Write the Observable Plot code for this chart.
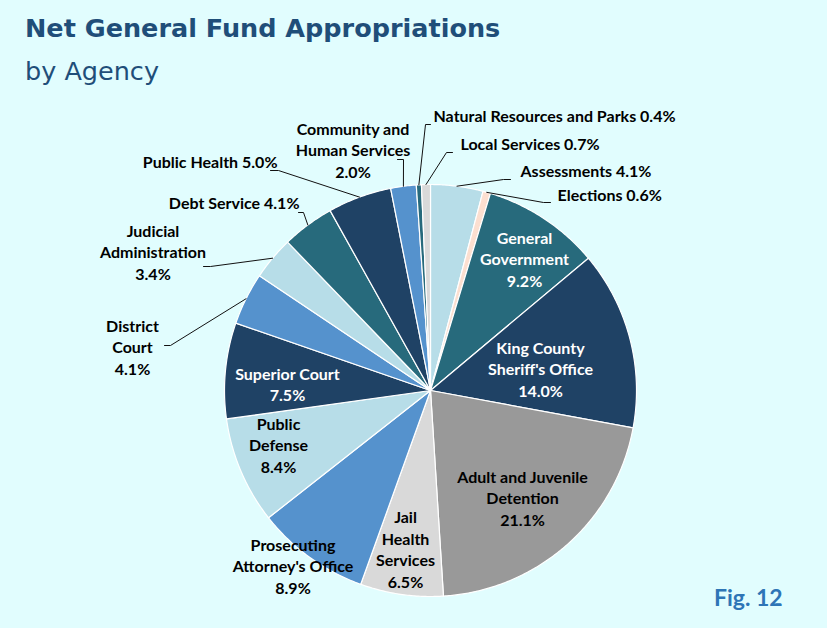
<!DOCTYPE html>
<html><head><meta charset="utf-8">
<script src="https://cdn.jsdelivr.net/npm/d3@7"></script>
<script src="https://cdn.jsdelivr.net/npm/@observablehq/plot@0.6"></script>
<style>
body{margin:0;background:#e1fdfe;width:827px;height:628px;overflow:hidden;position:relative;}
#title{padding:7px 0 0 25px;height:86px;font-family:"DejaVu Sans";font-size:25.5px;line-height:43px;color:#1f4e79;}
#title .t1{font-weight:bold;}
#fig{position:absolute;left:714px;top:584px;font-family:Lato;font-weight:bold;font-size:23px;line-height:1.2;color:#2e75b6;}
</style></head>
<body>
<div id="title"><div class="t1">Net General Fund Appropriations</div><div>by Agency</div></div>
<div id="chart"></div>
<div id="fig">Fig. 12</div>
<script>
// ---- data ----
const names = ["Assessments","Elections","General Government","King County Sheriff's Office","Adult and Juvenile Detention","Jail Health Services","Prosecuting Attorney's Office","Public Defense","Superior Court","District Court","Judicial Administration","Debt Service","Public Health","Community and Human Services","Natural Resources and Parks","Local Services"];
const shares = [4.1,0.6,9.2,14.0,21.1,6.5,8.9,8.4,7.5,4.1,3.4,4.1,5.0,2.0,0.4,0.7];
const wrappedNames = ["Assessments","Elections","General\nGovernment","King County\nSheriff's Office","Adult and Juvenile\nDetention","Jail\nHealth\nServices","Prosecuting\nAttorney's Office","Public\nDefense","Superior Court","District\nCourt","Judicial\nAdministration","Debt Service","Public Health","Community and\nHuman Services","Natural Resources and Parks","Local Services"];

// ---- styles ----
const LB="#b7dde8", PE="#fcdfd0", TE="#276a7c", NA="#1f4265", GR="#999999", LG="#d9d9d9", MB="#5592cd";
const sliceColors = [LB,PE,TE,NA,GR,LG,MB,LB,NA,MB,LB,TE,NA,MB,TE,LG];

// ---- layout (page pixels) ----
const TOP = 93, W = 827, H = 628 - TOP, CX = 430, CY = 390, R = 206;
const layout = [
 {anchor:"start", x:520, y:170, fill:"#000", lead:[[510,179],[503,179]]},
 {anchor:"start", x:557, y:194, fill:"#000", lead:[[550,202],[543,202]]},
 {anchor:"middle", x:524, y:258, fill:"white", nl:true},
 {anchor:"middle", x:540, y:368, fill:"white", nl:true},
 {anchor:"middle", x:522, y:497, fill:"#000", nl:true},
 {anchor:"middle", x:405, y:548, fill:"#000", nl:true},
 {anchor:"middle", x:292.5, y:565, fill:"#000", nl:true},
 {anchor:"middle", x:278, y:444, fill:"#000", nl:true},
 {anchor:"middle", x:287, y:383, fill:"white", nl:true},
 {anchor:"middle", x:132, y:346, fill:"#000", nl:true, lead:[[164,345],[170,345]]},
 {anchor:"middle", x:152.5, y:251, fill:"#000", nl:true, lead:[[203,266],[210,266]]},
 {anchor:"end", x:299, y:202, fill:"#000", lead:[[298,212],[303,212]]},
 {anchor:"end", x:277, y:161, fill:"#000", lead:[[270,170],[278,170]]},
 {anchor:"middle", x:352.5, y:149, fill:"#000", nl:true, lead:[[397,159],[403,159]]},
 {anchor:"start", x:433, y:115, fill:"#000", lead:[[430,124],[425,124]]},
 {anchor:"start", x:460, y:143, fill:"#000", lead:[[452,152],[446,152]]}
];
const toU = px => (px - CX) / R;
const toV = py => (CY - py) / R;

// ---- geometry from data ----
const arcs = d3.pie().sort(null).value(d => d)(shares);
const slicePts = [];
arcs.forEach((a, i) => {
  slicePts.push({name: names[i], x: 0, y: 0});
  const n = Math.max(2, Math.ceil((a.endAngle - a.startAngle) / (Math.PI / 360)));
  for (let k = 0; k <= n; k++) {
    const t = a.startAngle + (a.endAngle - a.startAngle) * k / n;
    slicePts.push({name: names[i], x: Math.sin(t), y: Math.cos(t)});
  }
});
const leaderPts = [];
arcs.forEach((a, i) => {
  const L = layout[i].lead;
  if (!L) return;
  const m = (a.startAngle + a.endAngle) / 2;
  leaderPts.push({name: names[i], x: toU(L[0][0]), y: toV(L[0][1])});
  leaderPts.push({name: names[i], x: toU(L[1][0]), y: toV(L[1][1])});
  leaderPts.push({name: names[i], x: Math.sin(m), y: Math.cos(m)});
});
const labels = names.map((n, i) => ({
  text: wrappedNames[i] + (layout[i].nl ? "\n" : " ") + shares[i].toFixed(1) + "%",
  x: toU(layout[i].x), y: toV(layout[i].y), anchor: layout[i].anchor, fill: layout[i].fill
}));
const textMarks = [];
for (const anchor of ["start","middle","end"]) for (const fill of ["#000","white"]) {
  const sub = labels.filter(d => d.anchor === anchor && d.fill === fill);
  if (sub.length) textMarks.push(Plot.text(sub, {x:"x", y:"y", text:"text", textAnchor: anchor, fill,
    fontFamily:"Lato", fontWeight:"bold", fontSize:16, lineHeight:1.34}));
}

const chart = Plot.plot({
  width: W, height: H, margin: 0,
  x: {domain: [toU(0), toU(W)], axis: null},
  y: {domain: [toV(628), toV(TOP)], axis: null},
  color: {type: "ordinal", domain: names, range: sliceColors},
  style: {background: "transparent", overflow: "visible"},
  marks: [
    Plot.line(slicePts, {x:"x", y:"y", z:"name", fill:"name", stroke:"white", strokeWidth:1.2, curve:"linear-closed"}),
    Plot.line(leaderPts, {x:"x", y:"y", z:"name", stroke:"#111", strokeWidth:1}),
    ...textMarks
  ]
});
document.getElementById("chart").appendChild(chart);
</script>
</body></html>
